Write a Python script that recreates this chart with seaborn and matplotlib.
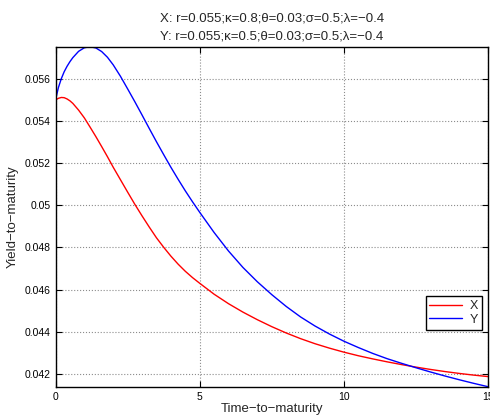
import matplotlib
matplotlib.use("Agg")
import matplotlib.pyplot as plt
import matplotlib.ticker as mticker
import seaborn as sns
import pandas as pd

maturity = [0, 0.1, 0.2, 0.3, 0.4, 0.5, 0.6, 0.8, 1.0, 1.2, 1.4, 1.6, 1.8,
            2.0, 2.25, 2.5, 2.75, 3.0, 3.25, 3.5, 3.75, 4.0, 4.25, 4.5, 4.75,
            5.0, 5.5, 6.0, 6.5, 7.0, 7.5, 8.0, 8.5, 9.0, 9.5, 10, 10.5, 11,
            11.5, 12, 12.5, 13, 13.5, 14, 14.5, 15]

yield_x = [0.05500, 0.05508, 0.05512, 0.05511, 0.05505, 0.05496, 0.05484,
           0.05452, 0.05415, 0.05371, 0.05326, 0.05279, 0.05231, 0.05181,
           0.05122, 0.05063, 0.05005, 0.04950, 0.04897, 0.04846, 0.04801,
           0.04759, 0.04721, 0.04687, 0.04657, 0.04630, 0.04578, 0.04533,
           0.04493, 0.04457, 0.04424, 0.04394, 0.04367, 0.04343, 0.04322,
           0.04303, 0.04286, 0.04271, 0.04257, 0.04244, 0.04232, 0.04221,
           0.04211, 0.04202, 0.04194, 0.04187]

yield_y = [0.05500, 0.05559, 0.05601, 0.05634, 0.05660, 0.05682, 0.05701,
           0.05731, 0.05748, 0.05753, 0.05747, 0.05730, 0.05703, 0.05667,
           0.05613, 0.05553, 0.05492, 0.05429, 0.05365, 0.05302, 0.05241,
           0.05181, 0.05124, 0.05069, 0.05017, 0.04967, 0.04871, 0.04783,
           0.04705, 0.04637, 0.04576, 0.04520, 0.04470, 0.04427, 0.04389,
           0.04355, 0.04325, 0.04297, 0.04272, 0.04250, 0.04229, 0.04209,
           0.04190, 0.04172, 0.04155, 0.04139]

titles = ["X: r=0.055;\u03ba=0.8;\u03b8=0.03;\u03c3=0.5;\u03bb=\u22120.4",
          "Y: r=0.055;\u03ba=0.5;\u03b8=0.03;\u03c3=0.5;\u03bb=\u22120.4"]
x_ticks = [0, 5, 10, 15]
y_ticks = [0.042, 0.044, 0.046, 0.048, 0.05, 0.052, 0.054, 0.056]

df = pd.DataFrame({
    "maturity": maturity * 2,
    "yield": yield_x + yield_y,
    "curve": ["X"] * len(maturity) + ["Y"] * len(maturity),
})

sns.set_style("ticks")
plt.rcParams["font.family"] = ["Liberation Sans", "DejaVu Sans"]

fig = plt.figure(figsize=(4.9, 4.2), dpi=100)
ax = fig.add_axes([0.1133, 0.0793, 0.8827, 0.8095])

sns.lineplot(data=df, x="maturity", y="yield", hue="curve",
             palette={"X": "#ff0000", "Y": "#0000ff"}, linewidth=1.0, ax=ax)

ax.set_xlim(0, 15)
ax.set_ylim(0.04139, 0.05753)
ax.set_xticks(x_ticks)
ax.set_yticks(y_ticks)
ax.yaxis.set_major_formatter(mticker.FuncFormatter(lambda v, p: f"{v:g}"))
ax.tick_params(direction="in", top=True, right=True, labelsize=7.5,
               length=4, width=0.8, colors="black")
ax.grid(True, linestyle=":", color="#8c8c8c", linewidth=0.8)
for s in ax.spines.values():
    s.set_visible(True)
    s.set_color("black")
    s.set_linewidth(1.0)

ax.set_xlabel("Time\u2212to\u2212maturity", fontsize=9.5, labelpad=1)
ax.set_ylabel("Yield\u2212to\u2212maturity", fontsize=9.5, labelpad=4)
ax.set_title("\n".join(titles), fontsize=9.5, linespacing=1.75, pad=5)

leg = ax.legend(loc="lower right", bbox_to_anchor=(0.985, 0.168),
                fontsize=9, frameon=True, fancybox=False,
                handlelength=2.6, borderpad=0.3, labelspacing=0.15,
                handletextpad=0.6, borderaxespad=0)
leg.get_frame().set_edgecolor("black")
leg.get_frame().set_linewidth(1.0)
leg.get_frame().set_alpha(1)
leg.set_title(None)

fig.savefig("out.png", dpi=100)
